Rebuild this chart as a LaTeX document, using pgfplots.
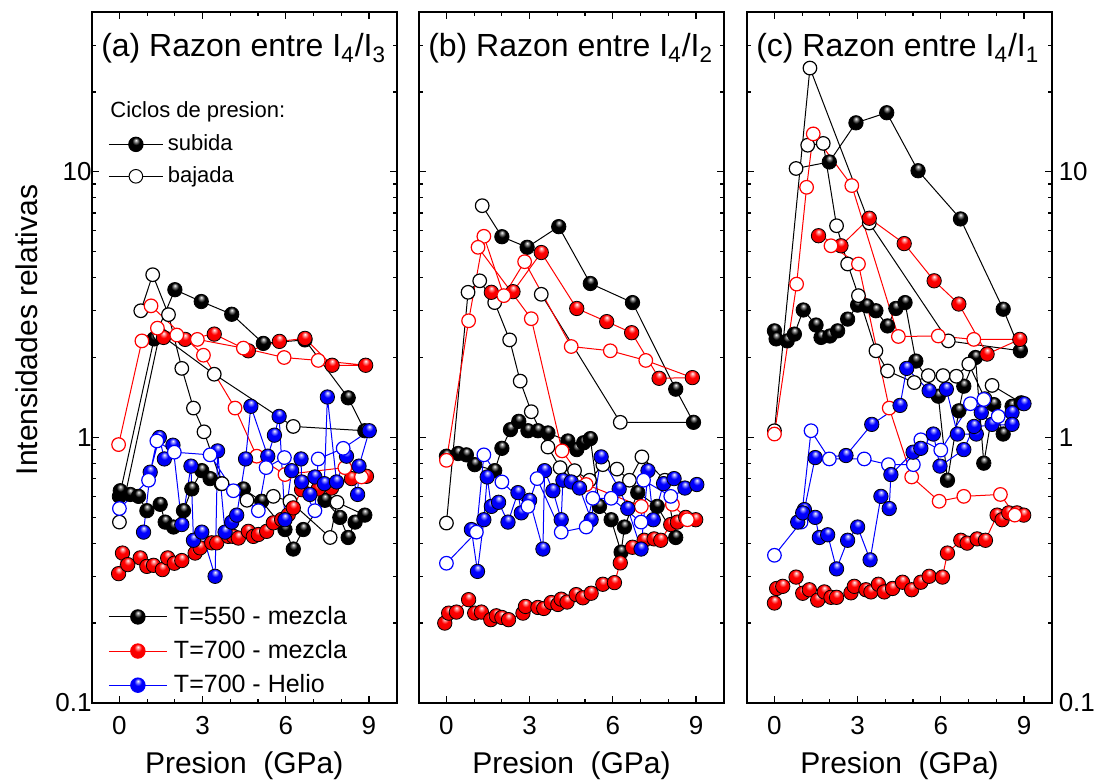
\documentclass[border=0pt]{standalone}
\usepackage{fontspec}
\setmainfont{Liberation Sans}
\usepackage{pgfplots}
\usepackage{pgfplotstable}
\pgfplotsset{compat=1.18}
\usetikzlibrary{plotmarks}
\makeatletter
\pgfdeclareradialshading[tikz@ball]{ball}{\pgfqpoint{0bp}{15bp}}{color(0bp)=(white); color(4bp)=(tikz@ball!35!white); color(13bp)=(tikz@ball); color(38bp)=(tikz@ball!90!black); color(50bp)=(tikz@ball!72!black)}
\makeatother
% c = 0: subida (filled), c = 1: bajada (open)
\pgfplotstableread[row sep=\\]{x y c\\ 0 0.60 0\\ 1.25 2.35 0\\ 2.0 3.6 0\\ 2.95 3.25 0\\ 4.05 2.91 0\\ 5.19 2.26 0\\ 6.69 2.33 0\\ 8.25 1.41 0\\ 8.85 1.06 0\\ 6.27 1.10 1\\ 3.42 1.73 1\\ 1.45 2.45 1\\ 0 0.48 1\\}\aK
\pgfplotstableread[row sep=\\]{x y c\\ 0.03 0.63 0\\ 0.39 0.61 0\\ 0.69 0.60 0\\ 0.99 0.53 0\\ 1.47 0.56 0\\ 1.65 0.48 0\\ 1.95 0.46 0\\ 2.31 0.53 0\\ 2.61 0.64 0\\ 2.97 0.75 0\\ 3.27 0.70 0\\ 3.67 0.67 0\\ 4.47 0.64 0\\ 5.13 0.575 0\\ 5.97 0.45 0\\ 6.27 0.38 0\\ 6.63 0.45 0\\ 7.41 0.58 0\\ 7.95 0.50 0\\ 8.25 0.42 0\\ 8.5 0.48 0\\ 8.85 0.51 0\\ 7.85 0.57 1\\ 7.6 0.42 1\\ 6.15 0.575 1\\ 5.55 0.60 1\\ 4.6 0.58 1\\ 3.7 0.67 1\\ 3.05 1.05 1\\ 2.67 1.29 1\\ 2.25 1.82 1\\ 1.77 2.9 1\\ 1.2 4.1 1\\ 0.77 3.0 1\\}\aKK
\pgfplotstableread[row sep=\\]{x y c\\ 1.59 2.38 0\\ 2.37 2.34 0\\ 3.42 2.45 0\\ 4.65 2.12 0\\ 5.77 2.30 0\\ 6.69 2.36 0\\ 7.67 1.87 0\\ 8.88 1.87 0\\ 7.17 1.95 1\\ 5.94 2.0 1\\ 4.47 2.17 1\\ 2.81 2.34 1\\ 2.07 2.43 1\\ 1.37 2.58 1\\ 0.81 2.31 1\\ -0.03 0.94 1\\}\aR
\pgfplotstableread[row sep=\\]{x y c\\ -0.03 0.307 0\\ 0.11 0.367 0\\ 0.30 0.332 0\\ 0.75 0.352 0\\ 0.99 0.327 0\\ 1.23 0.330 0\\ 1.55 0.318 0\\ 1.74 0.352 0\\ 1.98 0.336 0\\ 2.25 0.344 0\\ 2.73 0.367 0\\ 2.91 0.384 0\\ 3.33 0.401 0\\ 3.51 0.401 0\\ 3.93 0.424 0\\ 4.11 0.424 0\\ 4.29 0.418 0\\ 4.65 0.443 0\\ 4.83 0.424 0\\ 5.01 0.431 0\\ 5.31 0.443 0\\ 5.55 0.477 0\\ 5.85 0.491 0\\ 6.09 0.512 0\\ 6.27 0.543 0\\ 6.57 0.636 0\\ 7.17 0.64 0\\ 7.65 0.645 0\\ 8.37 0.70 0\\ 8.91 0.714 0\\ 8.73 0.71 1\\ 8.13 0.77 1\\ 5.97 0.725 1\\ 4.95 0.85 1\\ 4.17 1.29 1\\ 3.03 2.04 1\\ 1.14 3.13 1\\}\aRR
\pgfplotstableread[row sep=\\]{x y c\\ 0.87 0.44 0\\ 1.11 0.74 0\\ 1.44 1.0 0\\ 1.62 0.83 0\\ 1.93 0.935 0\\ 2.25 0.47 0\\ 2.58 0.78 0\\ 2.67 0.41 0\\ 2.97 0.44 0\\ 3.45 0.30 0\\ 3.54 0.89 0\\ 3.81 0.44 0\\ 4.05 0.48 0\\ 4.23 0.51 0\\ 4.55 0.83 0\\ 4.74 1.31 0\\ 5.35 0.85 0\\ 5.59 1.02 0\\ 5.76 1.20 0\\ 5.97 0.49 0\\ 6.21 0.75 0\\ 6.55 0.83 0\\ 6.57 0.68 0\\ 6.87 0.61 0\\ 7.05 0.71 0\\ 7.39 0.67 0\\ 7.50 1.42 0\\ 7.83 0.68 0\\ 8.19 0.85 0\\ 8.59 0.61 0\\ 8.64 0.78 0\\ 9.01 1.06 0\\ 8.07 0.91 1\\ 7.17 0.83 1\\ 7.05 0.53 1\\ 5.95 0.84 1\\ 5.29 0.77 1\\ 5.01 0.53 1\\ 4.11 0.63 1\\ 3.27 0.86 1\\ 1.98 0.88 1\\ 1.35 0.97 1\\ 1.05 0.69 1\\ 0 0.54 1\\}\aB
\pgfplotstableread[row sep=\\]{x y c\\ 1.29 7.46 1\\ 2.0 5.70 0\\ 2.91 5.2 0\\ 4.05 6.22 0\\ 5.19 3.8 0\\ 6.71 3.22 0\\ 8.27 1.52 0\\ 8.91 1.14 0\\ 6.27 1.14 1\\ 3.42 3.46 1\\}\bK
\pgfplotstableread[row sep=\\]{x y c\\ 0 0.85 0\\ 0.42 0.87 0\\ 0.72 0.86 0\\ 1.02 0.79 0\\ 1.74 0.75 0\\ 2.0 0.91 0\\ 2.31 1.07 0\\ 2.61 1.15 0\\ 2.94 1.06 0\\ 3.30 1.06 0\\ 3.66 1.04 0\\ 4.38 0.97 0\\ 4.70 0.90 0\\ 4.95 0.955 0\\ 5.19 0.99 0\\ 5.52 0.55 0\\ 5.94 0.49 0\\ 6.3 0.37 0\\ 6.42 0.46 0\\ 6.9 0.62 0\\ 7.6 0.55 0\\ 8.27 0.42 0\\ 7.88 0.69 1\\ 7.05 0.845 1\\ 6.6 0.69 1\\ 6.15 0.76 1\\ 5.64 0.79 1\\ 5.16 0.69 1\\ 4.62 0.75 1\\ 4.1 0.77 1\\ 3.66 0.92 1\\ 3.06 1.25 1\\ 2.66 1.63 1\\ 2.28 2.33 1\\ 1.74 3.22 1\\ 1.2 3.89 1\\ 0.78 3.52 1\\ 0 0.476 1\\}\bKK
\pgfplotstableread[row sep=\\]{x y c\\ 1.62 3.52 0\\ 2.40 3.54 0\\ 3.42 4.97 0\\ 4.70 3.06 0\\ 5.78 2.73 0\\ 6.68 2.48 0\\ 7.67 1.67 0\\ 8.87 1.68 0\\ 7.19 1.95 1\\ 5.91 2.12 1\\ 4.5 2.2 1\\ 2.82 4.59 1\\ 2.07 3.42 1\\ 1.35 5.72 1\\ 0.80 2.75 1\\ 0 0.82 1\\}\bR
\pgfplotstableread[row sep=\\]{x y c\\ -0.06 0.20 0\\ 0.08 0.218 0\\ 0.36 0.22 0\\ 0.80 0.245 0\\ 1.02 0.218 0\\ 1.26 0.22 0\\ 1.6 0.206 0\\ 1.8 0.213 0\\ 2.0 0.21 0\\ 2.24 0.206 0\\ 2.76 0.218 0\\ 2.85 0.231 0\\ 3.30 0.229 0\\ 3.51 0.227 0\\ 3.78 0.239 0\\ 4.02 0.235 0\\ 4.14 0.246 0\\ 4.35 0.24 0\\ 4.68 0.256 0\\ 4.92 0.249 0\\ 5.22 0.259 0\\ 5.64 0.28 0\\ 6.06 0.284 0\\ 6.27 0.337 0\\ 6.71 0.386 0\\ 7.13 0.41 0\\ 7.49 0.415 0\\ 7.73 0.41 0\\ 8.09 0.47 0\\ 8.33 0.48 0\\ 8.63 0.50 0\\ 8.99 0.49 0\\ 8.69 0.49 1\\ 8.15 0.56 1\\ 7.03 0.55 1\\ 5.04 0.665 1\\ 4.17 0.89 1\\ 3.06 2.80 1\\ 1.14 5.2 1\\}\bRR
\pgfplotstableread[row sep=\\]{x y c\\ 0.9 0.45 0\\ 1.12 0.313 0\\ 1.35 0.49 0\\ 1.47 0.71 0\\ 1.62 0.55 0\\ 1.88 0.57 0\\ 2.22 0.48 0\\ 2.58 0.62 0\\ 2.70 0.52 0\\ 3.0 0.58 0\\ 3.48 0.38 0\\ 3.54 0.75 0\\ 3.84 0.63 0\\ 4.14 0.49 0\\ 4.2 0.69 0\\ 4.5 0.68 0\\ 4.80 0.645 0\\ 5.22 0.49 0\\ 5.58 0.845 0\\ 6.23 0.64 0\\ 6.54 0.54 0\\ 7.02 0.38 0\\ 7.27 0.75 0\\ 7.46 0.49 0\\ 7.83 0.67 0\\ 8.21 0.70 0\\ 8.6 0.645 0\\ 9.03 0.665 0\\ 8.09 0.60 1\\ 7.11 0.69 1\\ 7.02 0.48 1\\ 5.94 0.59 1\\ 5.28 0.59 1\\ 5.04 0.46 1\\ 4.14 0.44 1\\ 3.27 0.70 1\\ 2.94 0.55 1\\ 2.0 0.68 1\\ 1.35 0.86 1\\ 1.08 0.44 1\\ 0 0.336 1\\}\bB
\pgfplotstableread[row sep=\\]{x y c\\ 0.78 10.3 1\\ 1.98 10.9 0\\ 2.94 15.3 0\\ 4.05 16.7 0\\ 5.18 10.1 0\\ 6.71 6.65 0\\ 8.25 3.04 0\\ 8.87 2.12 0\\ 6.27 2.31 1\\ 3.42 6.42 1\\ 1.28 24.6 1\\ 0 1.06 1\\}\cK
\pgfplotstableread[row sep=\\]{x y c\\ 0 2.52 0\\ 0.06 2.35 0\\ 0.46 2.31 0\\ 0.72 2.45 0\\ 1.04 3.02 0\\ 1.50 2.65 0\\ 1.68 2.38 0\\ 2.0 2.41 0\\ 2.28 2.52 0\\ 2.64 2.79 0\\ 3.0 3.15 0\\ 3.33 3.13 0\\ 3.66 3.0 0\\ 4.08 2.63 0\\ 4.38 3.06 0\\ 4.71 3.22 0\\ 5.10 1.94 0\\ 5.91 1.43 0\\ 6.24 0.69 0\\ 6.65 1.26 0\\ 6.83 1.56 0\\ 7.25 2.0 0\\ 7.55 0.80 0\\ 7.91 1.33 0\\ 8.25 1.03 0\\ 8.57 1.31 0\\ 8.9 1.35 0\\ 7.85 1.57 1\\ 7.59 1.40 1\\ 7.01 1.89 1\\ 6.56 1.70 1\\ 6.08 1.71 1\\ 5.55 1.71 1\\ 5.04 1.61 1\\ 4.08 1.78 1\\ 3.66 2.12 1\\ 3.03 3.42 1\\ 2.64 4.5 1\\ 2.24 6.27 1\\ 1.76 12.8 1\\ 1.2 12.6 1\\}\cKK
\pgfplotstableread[row sep=\\]{x y c\\ 1.59 5.75 0\\ 2.4 5.27 0\\ 3.42 6.69 0\\ 4.68 5.37 0\\ 5.76 3.89 0\\ 6.65 3.18 0\\ 7.67 2.06 0\\ 8.85 2.34 0\\ 7.19 2.34 1\\ 5.91 2.41 1\\ 4.47 2.4 1\\ 2.79 8.88 1\\ 1.40 13.9 1\\ 1.16 8.75 1\\ 0.80 3.78 1\\ 0 1.03 1\\}\cR
\pgfplotstableread[row sep=\\]{x y c\\ 0 0.238 0\\ 0.08 0.27 0\\ 0.30 0.275 0\\ 0.78 0.298 0\\ 1.02 0.259 0\\ 1.26 0.267 0\\ 1.56 0.244 0\\ 1.8 0.262 0\\ 2.04 0.25 0\\ 2.24 0.25 0\\ 2.76 0.26 0\\ 2.88 0.275 0\\ 3.30 0.267 0\\ 3.48 0.262 0\\ 3.75 0.28 0\\ 3.96 0.262 0\\ 4.26 0.27 0\\ 4.62 0.285 0\\ 4.95 0.267 0\\ 5.28 0.285 0\\ 5.58 0.30 0\\ 6.06 0.298 0\\ 6.24 0.367 0\\ 6.72 0.41 0\\ 6.95 0.40 0\\ 7.31 0.415 0\\ 7.61 0.41 0\\ 8.03 0.51 0\\ 8.21 0.49 0\\ 8.45 0.52 0\\ 8.75 0.52 0\\ 8.99 0.51 0\\ 8.67 0.51 1\\ 8.15 0.61 1\\ 6.83 0.60 1\\ 5.94 0.575 1\\ 4.95 0.71 1\\ 4.14 1.29 1\\ 3.03 4.5 1\\ 2.04 5.27 1\\}\cRR
\pgfplotstableread[row sep=\\]{x y c\\ 1.08 0.535 0\\ 1.47 0.84 0\\ 2.58 0.855 0\\ 3.51 1.12 0\\ 4.53 1.32 0\\ 4.77 1.82 0\\ 5.58 1.5 0\\ 6.2 1.52 0\\ 6.6 1.03 0\\ 7.28 1.03 0\\ 7.46 1.24 0\\ 7.85 1.12 0\\ 8.57 1.24 0\\ 9.0 1.34 0\\ 8.07 1.2 1\\ 7.55 1.39 1\\ 7.07 1.34 1\\ 6.0 0.896 1\\ 5.28 0.98 1\\ 5.01 0.79 1\\ 4.11 0.79 1\\ 3.24 0.83 1\\ 1.98 0.83 1\\ 1.32 1.06 1\\ 0.96 0.48 1\\ 0 0.36 1\\}\cB
\pgfplotstableread[row sep=\\]{x y c\\ 0.84 0.48 0\\ 1.02 0.52 0\\ 1.47 0.50 0\\ 1.62 0.42 0\\ 1.92 0.43 0\\ 2.24 0.32 0\\ 2.64 0.41 0\\ 3.0 0.46 0\\ 3.45 0.346 0\\ 3.84 0.60 0\\ 4.14 0.54 0\\ 4.20 0.725 0\\ 5.0 0.88 0\\ 5.28 0.91 0\\ 5.73 1.03 0\\ 5.97 0.78 0\\ 6.83 0.90 0\\ 7.2 1.1 0\\ 8.57 1.12 0\\}\cBB

\newcommand\run[2]{%
  \addplot[color=#1, line width=0.5pt, mark=none] table[x=x,y=y] {#2};
  \addplot[only marks, mark=ball, mark size=3.6pt, mark options={ball color=#1}, restrict expr to domain={\thisrow{c}}{0:0}] table[x=x,y=y] {#2};
  \addplot[only marks, mark=*, mark size=3.4pt, mark options={fill=white, draw=#1, line width=0.6pt}, restrict expr to domain={\thisrow{c}}{1:1}] table[x=x,y=y] {#2};
}
\begin{document}
\begin{tikzpicture}
\useasboundingbox (0,0) rectangle (551pt,391.5pt);

% ---------------- panel (a)
\begin{axis}[scale only axis, width=152.5pt, height=345.5pt, anchor=south west, at={(45.85pt,40pt)},
    ymode=log, xmin=-1, xmax=10, ymin=0.1, ymax=40,
    xtick={0,3,6,9}, xticklabels={0,3,6,9}, minor xtick={1,2,4,5,7,8},
    ytick={0.1,1,10}, yticklabels={0.1,1,10},
    minor ytick={0.2,0.3,0.4,0.5,0.6,0.7,0.8,0.9,2,3,4,5,6,7,8,9,20,30},
    tick align=inside, major tick length=3.5pt, minor tick length=2pt,
    tick style={black, line width=0.6pt}, axis line style={line width=1pt},
    tick label style={font=\fontsize{13}{13}\selectfont}, xticklabel style={yshift=-3pt},
    yticklabel style={xshift=3.5pt}]
\run{black}{\aK}
\run{black}{\aKK}
\run{red}{\aR}
\run{red}{\aRR}
\run{blue}{\aB}
\node[anchor=base west, inner sep=0pt, font=\fontsize{16}{16}\selectfont] at (rel axis cs:0.03,0.935) {(a) Razon entre I\textsubscript{4}/I\textsubscript{3}};
\node[anchor=base west, inner sep=0pt, font=\fontsize{11}{11}\selectfont] at (rel axis cs:0.06,0.847) {Ciclos de presion:};
\end{axis}

% ---------------- panel (b)
\begin{axis}[scale only axis, width=152.5pt, height=345.5pt, anchor=south west, at={(209.35pt,40pt)},
    ymode=log, xmin=-1, xmax=10, ymin=0.1, ymax=40,
    xtick={0,3,6,9}, xticklabels={0,3,6,9}, minor xtick={1,2,4,5,7,8},
    ytick={0.1,1,10}, yticklabels={,,},
    minor ytick={0.2,0.3,0.4,0.5,0.6,0.7,0.8,0.9,2,3,4,5,6,7,8,9,20,30},
    tick align=inside, major tick length=3.5pt, minor tick length=2pt,
    tick style={black, line width=0.6pt}, axis line style={line width=1pt},
    tick label style={font=\fontsize{13}{13}\selectfont}, xticklabel style={yshift=-3pt}]
\run{black}{\bK}
\run{black}{\bKK}
\run{red}{\bR}
\run{red}{\bRR}
\run{blue}{\bB}
\node[anchor=base west, inner sep=0pt, font=\fontsize{16}{16}\selectfont] at (rel axis cs:0.03,0.935) {(b) Razon entre I\textsubscript{4}/I\textsubscript{2}};
\end{axis}

% ---------------- panel (c)
\begin{axis}[scale only axis, width=152.5pt, height=345.5pt, anchor=south west, at={(373.35pt,40pt)},
    ymode=log, xmin=-1, xmax=10, ymin=0.1, ymax=40,
    xtick={0,3,6,9}, xticklabels={0,3,6,9}, minor xtick={1,2,4,5,7,8},
    ytick={0.1,1,10}, yticklabels={0.1,1,10}, yticklabel pos=right,
    minor ytick={0.2,0.3,0.4,0.5,0.6,0.7,0.8,0.9,2,3,4,5,6,7,8,9,20,30},
    tick align=inside, major tick length=3.5pt, minor tick length=2pt,
    tick style={black, line width=0.6pt}, axis line style={line width=1pt},
    tick label style={font=\fontsize{13}{13}\selectfont}, xticklabel style={yshift=-3pt}]
\run{black}{\cK}
\run{black}{\cKK}
\run{red}{\cR}
\run{red}{\cRR}
\run{blue}{\cB}
\run{blue}{\cBB}
\node[anchor=base west, inner sep=0pt, font=\fontsize{16}{16}\selectfont] at (rel axis cs:0.03,0.935) {(c) Razon entre I\textsubscript{4}/I\textsubscript{1}};
\end{axis}

% ---------------- legends (overlay on panel a)
\begin{axis}[scale only axis, width=152.5pt, height=345.5pt, anchor=south west, at={(45.85pt,40pt)},
    hide axis, xmin=0, xmax=1, ymin=0, ymax=1,
    legend image code/.code={\draw[mark repeat=2, mark phase=2, #1] plot coordinates {(0pt,0pt) (14.5pt,0pt) (29pt,0pt)};},
    legend style={at={(0.0534,0.1462)}, anchor=north west, draw=none, fill=none,
      inner sep=0pt, column sep=3.3pt, row sep=2.5pt,
      font=\fontsize{12.5}{12.5}\selectfont, cells={anchor=west},
      nodes={inner xsep=0pt, inner ysep=2pt}}]
\addlegendimage{black, line width=0.5pt, mark=ball, mark size=3.6pt, mark options={ball color=black}}
\addlegendentry{T=550 - mezcla}
\addlegendimage{red, line width=0.5pt, mark=ball, mark size=3.6pt, mark options={ball color=red}}
\addlegendentry{T=700 - mezcla}
\addlegendimage{blue, line width=0.5pt, mark=ball, mark size=3.6pt, mark options={ball color=blue}}
\addlegendentry{T=700 - Helio}
\end{axis}
\begin{axis}[scale only axis, width=152.5pt, height=345.5pt, anchor=south west, at={(45.85pt,40pt)},
    hide axis, xmin=0, xmax=1, ymin=0, ymax=1,
    legend image code/.code={\draw[mark repeat=2, mark phase=2, #1] plot coordinates {(0pt,0pt) (13.5pt,0pt) (27pt,0pt)};},
    legend style={at={(0.0534,0.8285)}, anchor=north west, draw=none, fill=none,
      inner sep=0pt, column sep=2.2pt, row sep=2.5pt,
      font=\fontsize{11}{11}\selectfont, cells={anchor=west},
      nodes={inner xsep=0pt, inner ysep=2pt}}]
\addlegendimage{black, line width=0.5pt, mark=ball, mark size=3.6pt, mark options={ball color=black}}
\addlegendentry{subida}
\addlegendimage{black, line width=0.5pt, mark=*, mark size=3.4pt, mark options={fill=white}}
\addlegendentry{bajada}
\end{axis}

% ---------------- labels
\node[rotate=90, font=\fontsize{15}{15}\selectfont] at (13.5pt,226.5pt) {Intensidades relativas};
\node[anchor=base, font=\fontsize{15}{15}\selectfont] at (122.1pt,5pt) {Presion\ \ (GPa)};
\node[anchor=base, font=\fontsize{15}{15}\selectfont] at (285.75pt,5pt) {Presion\ \ (GPa)};
\node[anchor=base, font=\fontsize{15}{15}\selectfont] at (449.75pt,5pt) {Presion\ \ (GPa)};
\end{tikzpicture}
\end{document}
